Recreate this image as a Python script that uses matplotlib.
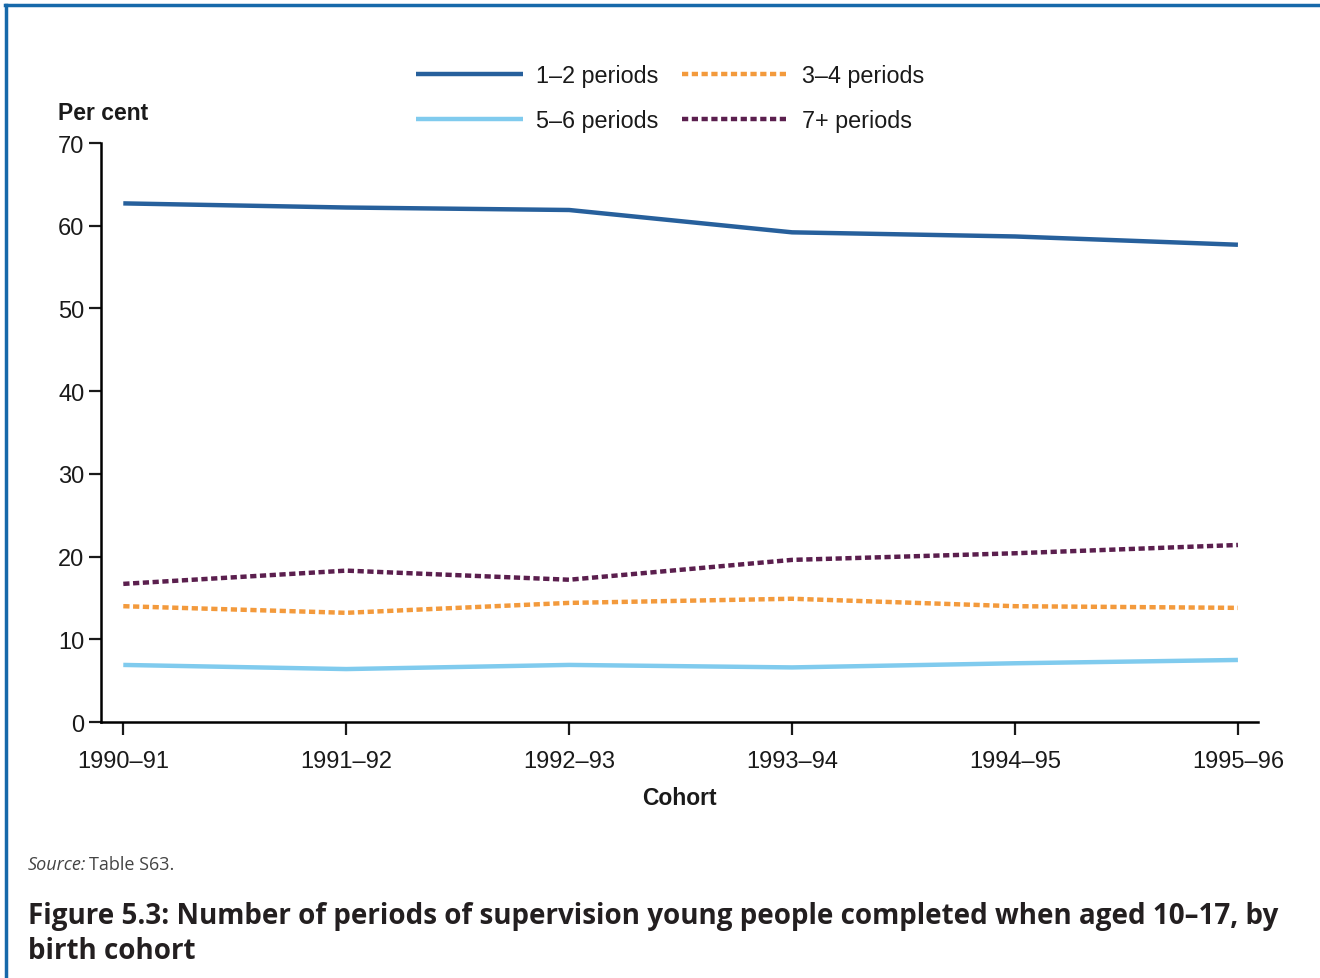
import matplotlib
matplotlib.use("Agg")
import matplotlib.pyplot as plt
from matplotlib.lines import Line2D

# data
cohorts = ["1990–91", "1991–92", "1992–93", "1993–94", "1994–95", "1995–96"]
p12 = [62.7, 62.2, 61.9, 59.2, 58.7, 57.7]
p34 = [14.0, 13.2, 14.4, 14.9, 14.0, 13.8]
p56 = [6.9, 6.4, 6.9, 6.6, 7.1, 7.5]
p7 = [16.7, 18.3, 17.2, 19.6, 20.4, 21.4]
labels = ["1–2 periods", "3–4 periods", "5–6 periods", "7+ periods"]
yticks = [0, 10, 20, 30, 40, 50, 60, 70]

plt.rcParams["font.family"] = ["Liberation Sans", "DejaVu Sans"]

W, H = 1320, 979
fig = plt.figure(figsize=(W / 100, H / 100), dpi=100)

# blue frame (top and left edges)
fig.add_artist(Line2D([5 / W, 1], [1 - 6 / H, 1 - 6 / H], color="#1769aa", lw=2.5))
fig.add_artist(Line2D([6 / W, 6 / W], [0, 1 - 6 / H], color="#1769aa", lw=2.5))

ax = fig.add_axes([101 / W, 1 - 723 / H, (1258 - 101) / W, (723 - 144) / H])
x = list(range(len(cohorts)))

l1, = ax.plot(x, p12, color="#27609c", lw=3.2, solid_capstyle="butt")
l2, = ax.plot(x, p34, color="#f39a3c", lw=3.2, linestyle=(0, (1.4, 0.8)))
l3, = ax.plot(x, p56, color="#80cbee", lw=3.2, solid_capstyle="butt")
l4, = ax.plot(x, p7, color="#5b1f4e", lw=3.2, linestyle=(0, (1.4, 0.8)))

ax.set_xlim(-0.1, 5.09)
ax.set_ylim(0, 70)
ax.set_xticks(x)
ax.set_xticklabels(cohorts)
ax.set_yticks(yticks)
ax.spines["top"].set_visible(False)
ax.spines["right"].set_visible(False)
ax.spines["left"].set_linewidth(1.8)
ax.spines["bottom"].set_linewidth(1.8)
ax.tick_params(axis="both", labelsize=17, colors="#1a1a1a", width=1.6, length=9)
ax.tick_params(axis="x", pad=11)
ax.tick_params(axis="y", pad=3)

fig.text(58 / W, 1 - 114 / H, "Per cent", fontsize=16.5, fontweight="bold",
         color="#1a1a1a", va="center", ha="left")
ax.set_xlabel("Cohort", fontsize=16.5, fontweight="bold", color="#1a1a1a", labelpad=10)

# legend fills column by column, so order handles to get rows 1–2/3–4 and 5–6/7+
leg = fig.legend([l1, l3, l2, l4], [labels[0], labels[2], labels[1], labels[3]],
                 ncol=2, loc="center",
                 bbox_to_anchor=(670 / W, 1 - 99 / H), frameon=False,
                 fontsize=16.8, handlelength=4.6, handletextpad=0.55,
                 columnspacing=1.0, labelspacing=0.95)
for t in leg.get_texts():
    t.set_color("#1a1a1a")

# source note
fig.canvas.draw()
s1 = fig.text(28 / W, 1 - 865 / H, "Source:", fontsize=13, style="italic",
              color="#444444", va="center", family=["Open Sans", "DejaVu Sans"])
fig.canvas.draw()
bb = s1.get_window_extent()
fig.text((bb.x1 + 3) / W, 1 - 865 / H, "Table S63.", fontsize=13,
         color="#444444", va="center", family=["Open Sans", "DejaVu Sans"])

fig.text(28 / W, 1 - 934 / H,
         "Figure 5.3: Number of periods of supervision young people completed when aged 10–17, by\nbirth cohort",
         fontsize=20, fontweight="bold", color="#231f20", va="center", ha="left",
         linespacing=1.3, family=["Open Sans", "DejaVu Sans"])

fig.savefig("out.png", dpi=100, facecolor="white")
